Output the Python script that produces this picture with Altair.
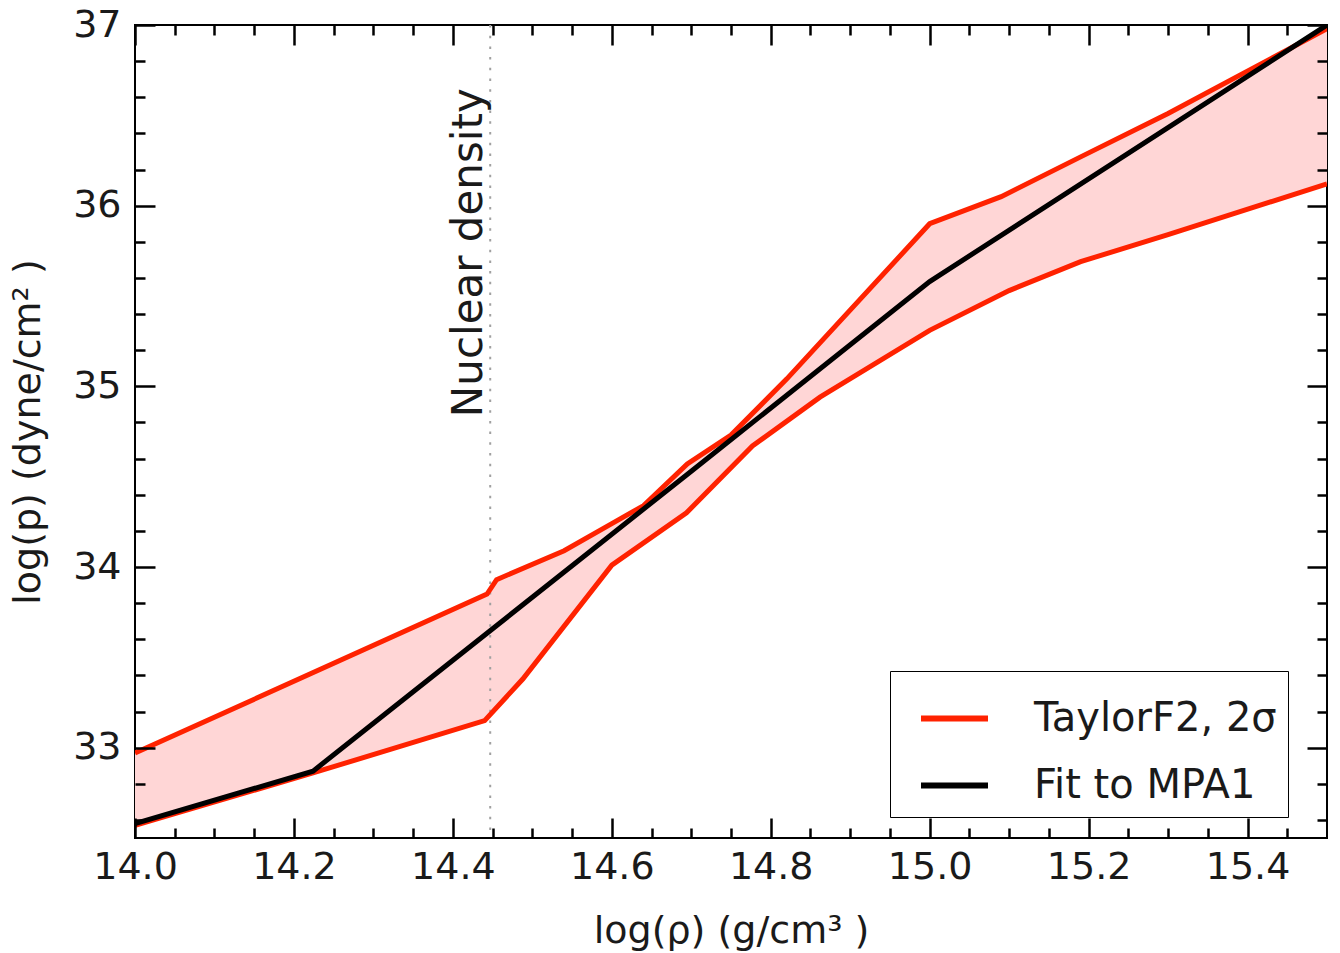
import altair as alt
import pandas as pd

# ---- data ----
x_black = [14.0, 14.224, 14.7, 15.0, 15.5]
y_black = [32.58, 32.87, 34.53, 35.58, 37.0]

x_upper = [14.0, 14.443, 14.455, 14.54, 14.6, 14.64, 14.695, 14.75, 14.82, 15.0, 15.09, 15.19, 15.3, 15.5]
y_upper = [32.97, 33.85, 33.93, 34.09, 34.24, 34.34, 34.57, 34.73, 35.04, 35.90, 36.05, 36.27, 36.51, 36.98]

x_lower = [14.0, 14.224, 14.44, 14.488, 14.6, 14.694, 14.777, 14.862, 15.0, 15.1, 15.19, 15.3, 15.5]
y_lower = [32.57, 32.86, 33.15, 33.38, 34.01, 34.30, 34.67, 34.94, 35.31, 35.53, 35.69, 35.84, 36.12]

nuclear_density = [14.447]
nuclear_label = ["Nuclear density"]
nuclear_label_y = [35.74]

series_names = ["TaylorF2, 2σ", "Fit to MPA1"]
series_colors = ["#ff2200", "#000000"]

x_major = [14.0, 14.2, 14.4, 14.6, 14.8, 15.0, 15.2, 15.4]
x_minor = [14.05, 14.1, 14.15, 14.25, 14.3, 14.35, 14.45, 14.5, 14.55, 14.65, 14.7, 14.75,
           14.85, 14.9, 14.95, 15.05, 15.1, 15.15, 15.25, 15.3, 15.35, 15.45]
y_major = [33, 34, 35, 36, 37]
y_minor = [32.6, 32.8, 33.2, 33.4, 33.6, 33.8, 34.2, 34.4, 34.6, 34.8, 35.2, 35.4, 35.6, 35.8,
           36.2, 36.4, 36.6, 36.8]

x_domain = [14.0, 15.5]
y_domain = [32.5, 37.0]

# ---- tables ----
red = pd.DataFrame(
    [{"x": a, "y": b, "bound": "upper", "series": series_names[0]} for a, b in zip(x_upper, y_upper)]
    + [{"x": a, "y": b, "bound": "lower", "series": series_names[0]} for a, b in zip(x_lower, y_lower)]
)
black = pd.DataFrame({"x": x_black, "y": y_black, "series": series_names[1]})
poly_x = x_upper + x_lower[::-1]
poly_y = y_upper + y_lower[::-1]
poly = pd.DataFrame({"x": poly_x, "y": poly_y, "idx": list(range(len(poly_x)))})
nuc = pd.DataFrame({"x": nuclear_density, "y": nuclear_label_y, "label": nuclear_label})

xs = alt.Scale(domain=x_domain, nice=False, zero=False)
ys = alt.Scale(domain=y_domain, nice=False, zero=False)
cs = alt.Scale(domain=series_names, range=series_colors)

FONT = "DejaVu Sans"
INK = "#1a1a1a"

main_x = alt.Axis(values=x_major, format=".1f", ticks=False, domain=False, grid=False,
                  labelFont=FONT, labelFontSize=38, labelColor=INK, labelPadding=10,
                  labelFlush=False, labelOverlap=False,
                  title="log(ρ) (g/cm³ )", titleFont=FONT, titleFontSize=38,
                  titleFontWeight="normal", titleColor=INK, titlePadding=26)
main_y = alt.Axis(values=y_major, format="d", ticks=False, domain=False, grid=False,
                  labelFont=FONT, labelFontSize=38, labelColor=INK, labelPadding=14,
                  labelFlush=False, labelOverlap=False,
                  title="log(p) (dyne/cm² )", titleFont=FONT, titleFontSize=38,
                  titleFontWeight="normal", titleColor=INK, titlePadding=25)


def tick_axis(orient, values, size):
    return alt.Axis(orient=orient, values=values, ticks=True, tickSize=size, tickWidth=2.5,
                    tickColor="black", offset=-size, labels=False, domain=False, grid=False,
                    title=None, zindex=2)


legend = alt.Legend(orient="none", legendX=755, legendY=646, title=None,
                    labelFont=FONT, labelFontSize=40, labelColor=INK, labelLimit=600,
                    symbolType="stroke", symbolSize=4489, symbolStrokeWidth=6,
                    strokeColor="black", fillColor="white", padding=11, symbolOffset=17,
                    labelOffset=43, rowPadding=10, cornerRadius=0)

fill = alt.Chart(poly).mark_line(filled=True, fill="#ffd6d6", clip=True).encode(
    x=alt.X("x:Q", scale=xs, axis=main_x),
    y=alt.Y("y:Q", scale=ys, axis=main_y),
    order=alt.Order("idx:Q"),
)

nuc_rule = alt.Chart(nuc).mark_rule(color="#a0a0a0", strokeWidth=2, strokeDash=[2.5, 8.2]).encode(
    x=alt.X("x:Q", scale=xs, axis=None),
)

nuc_text = alt.Chart(nuc).mark_text(angle=270, align="center", baseline="alphabetic", dy=-8,
                                    font=FONT, fontSize=42, color=INK).encode(
    x=alt.X("x:Q", scale=xs, axis=None),
    y=alt.Y("y:Q", scale=ys, axis=None),
    text="label:N",
)

red_lines = alt.Chart(red).mark_line(strokeWidth=5, clip=True).encode(
    x=alt.X("x:Q", scale=xs, axis=None),
    y=alt.Y("y:Q", scale=ys, axis=None),
    color=alt.Color("series:N", scale=cs, legend=legend),
    detail="bound:N",
)

black_line = alt.Chart(black).mark_line(strokeWidth=5, clip=True).encode(
    x=alt.X("x:Q", scale=xs, axis=None),
    y=alt.Y("y:Q", scale=ys, axis=None),
    color=alt.Color("series:N", scale=cs, legend=legend),
)


def axis_layer(ax, ay):
    return alt.Chart(black).mark_point(opacity=0).encode(
        x=alt.X("x:Q", scale=xs, axis=ax),
        y=alt.Y("y:Q", scale=ys, axis=ay),
    )


layers = [
    fill,
    nuc_rule,
    red_lines,
    black_line,
    nuc_text,
    axis_layer(tick_axis("bottom", x_major, 20), tick_axis("left", y_major, 20)),
    axis_layer(tick_axis("bottom", x_minor, 10), tick_axis("left", y_minor, 10)),
    axis_layer(tick_axis("top", x_major, 20), tick_axis("right", y_major, 20)),
    axis_layer(tick_axis("top", x_minor, 10), tick_axis("right", y_minor, 10)),
]

chart = alt.layer(*layers).resolve_axis(x="independent", y="independent").properties(
    width=1192, height=813,
    autosize=alt.AutoSizeParams(type="none"),
    padding={"left": 135, "top": 25, "right": 13, "bottom": 115},
).configure(font=FONT).configure_view(stroke="black", strokeWidth=2)

chart.save("out.html", embed_options={"renderer": "svg", "actions": False})
